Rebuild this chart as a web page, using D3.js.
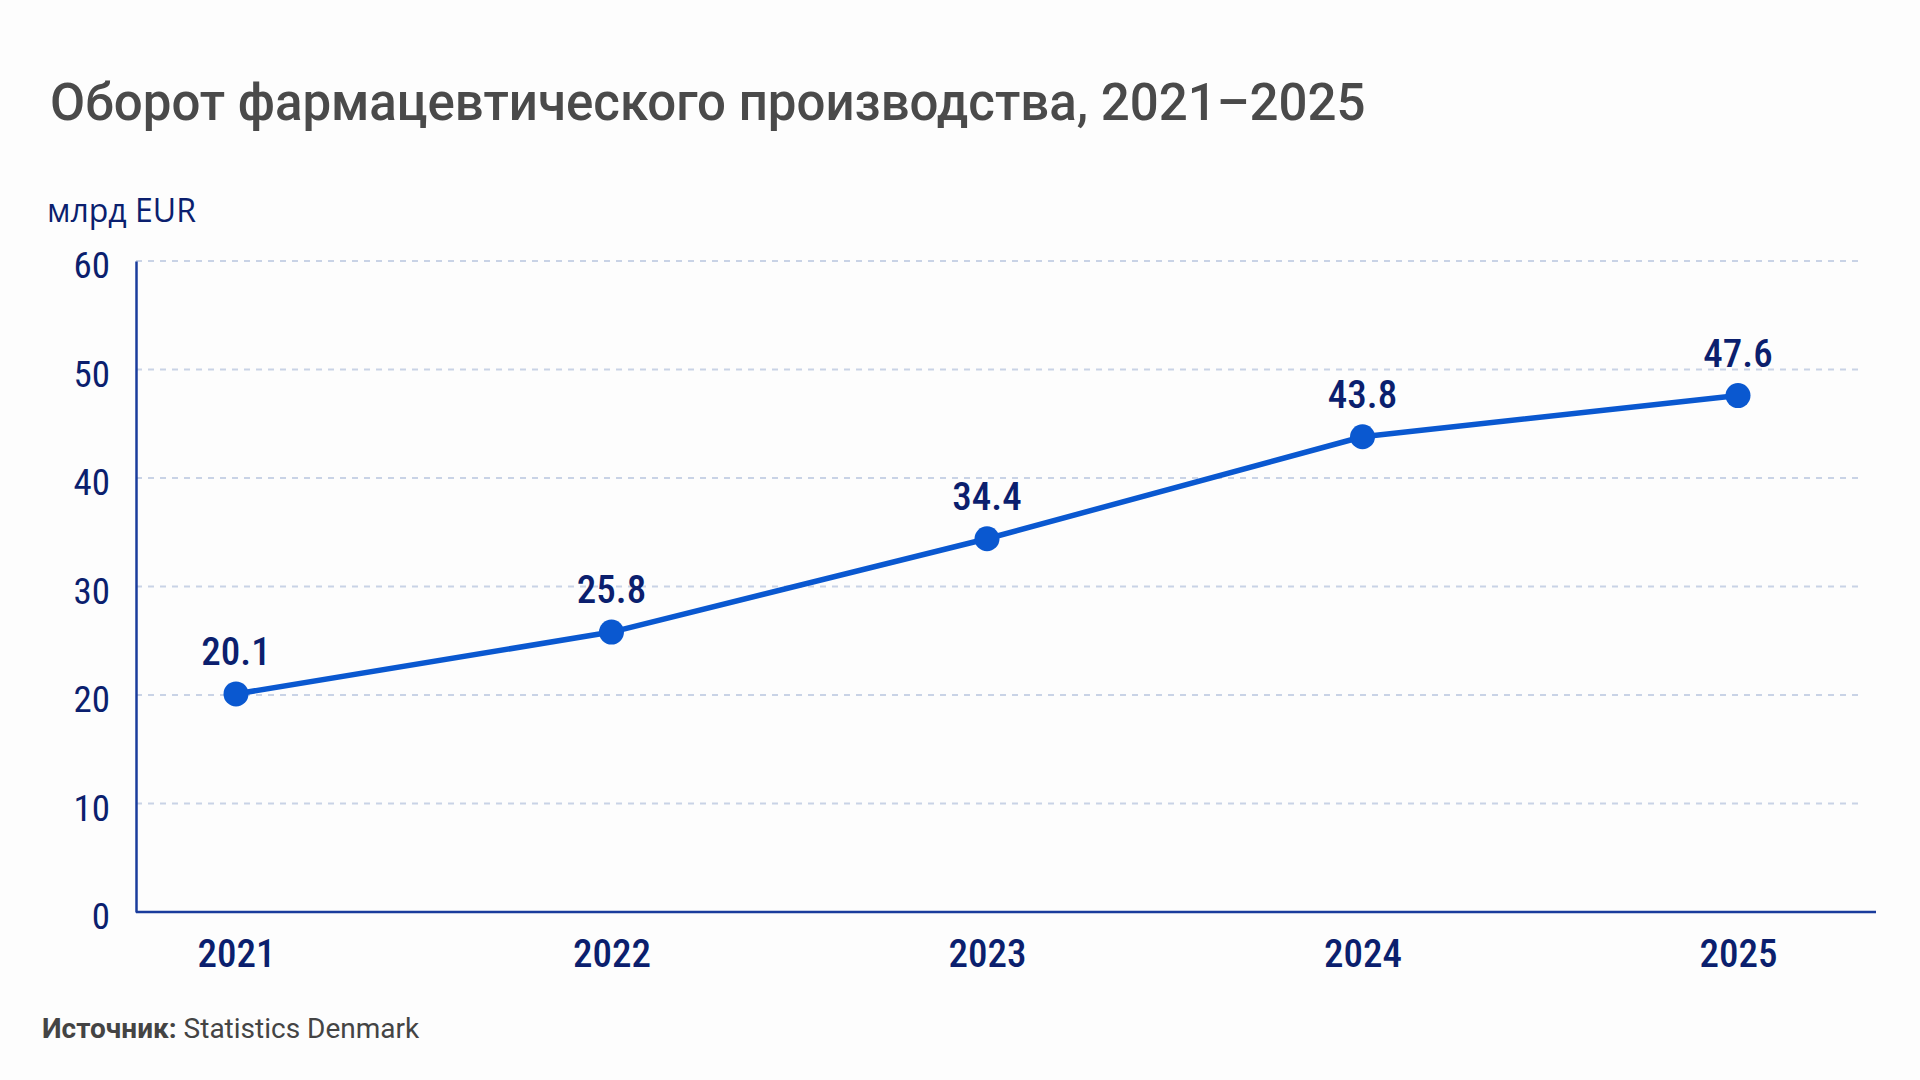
<!DOCTYPE html>
<html>
<head>
<meta charset="utf-8">
<script src="https://cdn.jsdelivr.net/npm/d3@7"></script>
<style>
  html, body { margin: 0; padding: 0; background: #fdfdfd; }
  svg { display: block; }
  .num { font-family: "Roboto Condensed", "Liberation Sans Narrow", Roboto, sans-serif; font-stretch: condensed; }
</style>
</head>
<body>
<div id="chart"></div>
<script>
// data
const years = ['2021', '2022', '2023', '2024', '2025'];
const turnover = [20.1, 25.8, 34.4, 43.8, 47.6];
const yTicks = [0, 10, 20, 30, 40, 50, 60];

const width = 1920;
const height = 1080;
const margin = { top: 261, right: 44, bottom: 168, left: 136 };

const navy = '#0b1f6e';
const blue = '#0a58d0';

const svg = d3.select('#chart')
  .append('svg')
  .attr('width', width)
  .attr('height', height);

// title
svg.append('text')
  .attr('x', 50)
  .attr('y', 120)
  .attr('fill', '#4a4a4a')
  .style('font-family', 'Roboto, sans-serif')
  .style('font-size', '51px')
  .style('font-weight', 500)
  .text('Оборот фармацевтического производства, 2021–2025');

// unit label
svg.append('text')
  .attr('x', 47)
  .attr('y', 222)
  .attr('fill', navy)
  .style('font-family', '"Open Sans", sans-serif')
  .style('font-size', '32px')
  .text('млрд EUR');

const g = svg.append('g')
  .attr('transform', `translate(${margin.left},${margin.top})`);

const innerW = width - margin.left - margin.right;
const innerH = height - margin.top - margin.bottom;

const x = d3.scalePoint()
  .domain(years)
  .range([100, 1602]);

const y = d3.scaleLinear()
  .domain([0, 60])
  .range([innerH, 0]);

// gridlines
g.append('g')
  .selectAll('line')
  .data(yTicks.filter((d) => d > 0))
  .join('line')
  .attr('x1', 0)
  .attr('x2', innerW - 12)
  .attr('y1', (d) => y(d))
  .attr('y2', (d) => y(d))
  .attr('stroke', '#c9d3e6')
  .attr('stroke-width', 2)
  .attr('stroke-dasharray', '6 6');

// y axis
const yAxis = g.append('g')
  .call(d3.axisLeft(y).tickValues(yTicks).tickSize(0).tickPadding(26));
yAxis.select('.domain').attr('stroke', '#1a3c9c').attr('stroke-width', 2.5);
yAxis.selectAll('text')
  .attr('class', 'num')
  .attr('fill', navy)
  .attr('dy', '0.45em')
  .style('font-size', '37px');

// x axis
const xAxis = g.append('g')
  .attr('transform', `translate(0,${innerH})`)
  .call(d3.axisBottom(x).tickSize(0).tickPadding(20));
xAxis.select('.domain')
  .attr('d', `M0,0H${innerW}`)
  .attr('stroke', '#1a3c9c')
  .attr('stroke-width', 2.5);
xAxis.selectAll('text')
  .attr('class', 'num')
  .attr('fill', navy)
  .attr('dy', '0.9em')
  .style('font-size', '39px')
  .style('font-weight', 500);

const data = years.map((yr, i) => ({ year: yr, value: turnover[i] }));

// line
g.append('path')
  .datum(data)
  .attr('fill', 'none')
  .attr('stroke', blue)
  .attr('stroke-width', 5.5)
  .attr('stroke-linejoin', 'round')
  .attr('d', d3.line()
    .x((d) => x(d.year))
    .y((d) => y(d.value)));

// points
g.selectAll('circle')
  .data(data)
  .join('circle')
  .attr('cx', (d) => x(d.year))
  .attr('cy', (d) => y(d.value))
  .attr('r', 12.5)
  .attr('fill', blue);

// value labels
g.selectAll('.val')
  .data(data)
  .join('text')
  .attr('class', 'val num')
  .attr('x', (d) => x(d.year))
  .attr('y', (d) => y(d.value) - 29)
  .attr('text-anchor', 'middle')
  .attr('fill', navy)
  .style('font-size', '39px')
  .style('font-weight', 500)
  .text((d) => d.value.toFixed(1));

// source
const src = svg.append('text')
  .attr('x', 42)
  .attr('y', 1038)
  .attr('fill', '#444')
  .style('font-family', 'Roboto, sans-serif')
  .style('font-size', '28px');
src.append('tspan').style('font-weight', 700).text('Источник:');
src.append('tspan').text(' Statistics Denmark');
</script>
</body>
</html>
